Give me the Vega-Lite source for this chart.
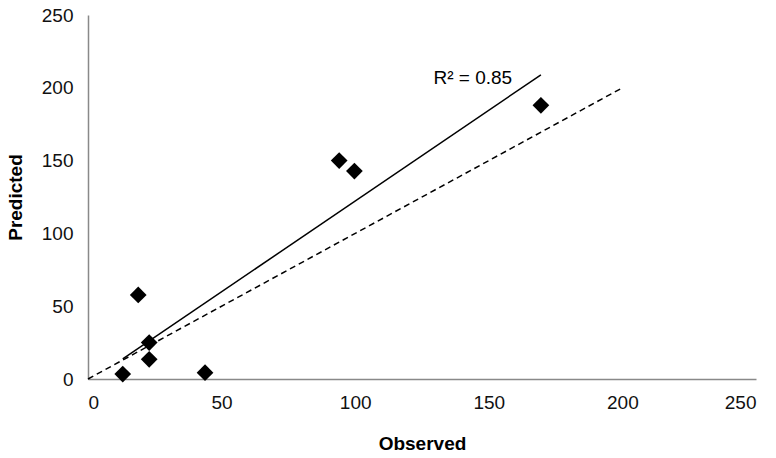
{
  "$schema": "https://vega.github.io/schema/vega-lite/v6.json",
  "autosize": "none",
  "width": 668,
  "height": 364,
  "padding": {"left": 88, "top": 15, "right": 20, "bottom": 79},
  "background": "white",
  "config": {
    "view": {"stroke": null},
    "font": "Liberation Sans",
    "axis": {
      "grid": false,
      "ticks": false,
      "domainColor": "#898989",
      "domainWidth": 1.5,
      "labelFont": "Liberation Sans",
      "labelFontSize": 19,
      "labelColor": "#111",
      "titleFont": "Liberation Sans",
      "titleFontSize": 19,
      "titleFontWeight": "bold",
      "titleColor": "#000"
    }
  },
  "datasets": {
    "points": [
      {"observed": 13, "predicted": 3.4},
      {"observed": 18.8, "predicted": 57.7},
      {"observed": 22.9, "predicted": 25},
      {"observed": 22.9, "predicted": 13.5},
      {"observed": 43.8, "predicted": 4.3},
      {"observed": 94, "predicted": 150},
      {"observed": 99.7, "predicted": 142.8},
      {"observed": 169.5, "predicted": 188}
    ],
    "oneToOne": [
      {"observed": 0, "predicted": 0},
      {"observed": 200, "predicted": 200}
    ],
    "annotation": [
      {"observed": 144, "predicted": 207, "label": "R² = 0.85"}
    ]
  },
  "layer": [
    {
      "data": {"name": "oneToOne"},
      "mark": {"type": "line", "color": "#000", "strokeWidth": 1.5, "strokeDash": [6, 4]},
      "encoding": {
        "x": {"field": "observed", "type": "quantitative", "scale": {"domain": [0, 250], "nice": false},
          "axis": {"title": "Observed", "values": [0, 50, 100, 150, 200, 250], "labelPadding": 14, "titlePadding": 22}},
        "y": {"field": "predicted", "type": "quantitative", "scale": {"domain": [0, 250], "nice": false},
          "axis": {"title": "Predicted", "values": [0, 50, 100, 150, 200, 250], "labelPadding": 15, "titlePadding": 16}}
      }
    },
    {
      "data": {"name": "points"},
      "transform": [{"regression": "predicted", "on": "observed"}],
      "mark": {"type": "line", "color": "#000", "strokeWidth": 1.5},
      "encoding": {
        "x": {"field": "observed", "type": "quantitative"},
        "y": {"field": "predicted", "type": "quantitative"}
      }
    },
    {
      "data": {"name": "points"},
      "mark": {"type": "point", "shape": "diamond", "filled": true, "color": "#000", "size": 280, "opacity": 1},
      "encoding": {
        "x": {"field": "observed", "type": "quantitative"},
        "y": {"field": "predicted", "type": "quantitative"}
      }
    },
    {
      "data": {"name": "annotation"},
      "mark": {"type": "text", "fontSize": 19, "font": "Liberation Sans", "color": "#000", "align": "center", "baseline": "middle"},
      "encoding": {
        "x": {"field": "observed", "type": "quantitative"},
        "y": {"field": "predicted", "type": "quantitative"},
        "text": {"field": "label"}
      }
    }
  ]
}
